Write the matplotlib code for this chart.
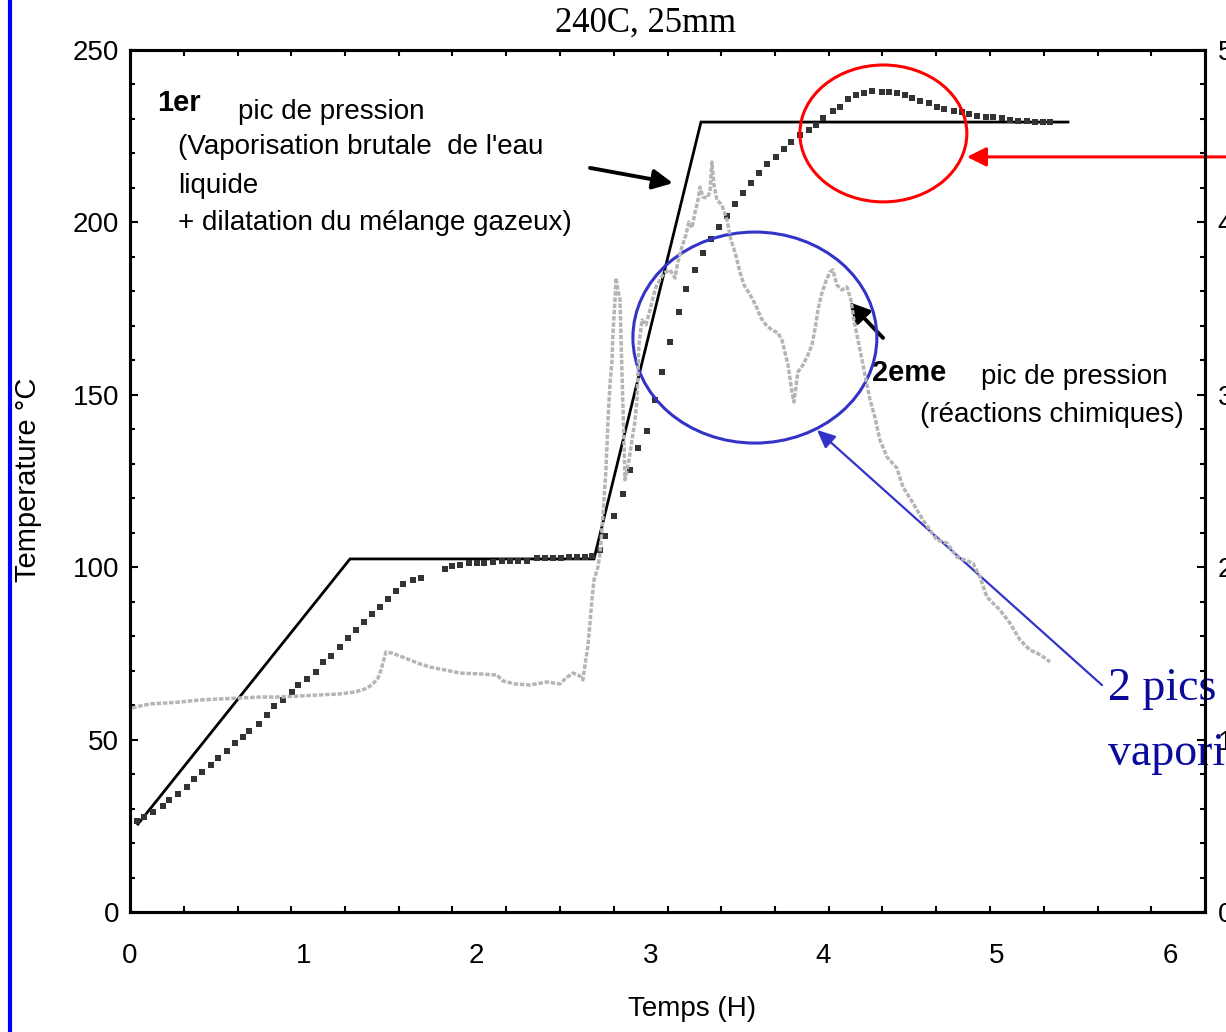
import numpy as np
import matplotlib
matplotlib.use("Agg")
import matplotlib.pyplot as plt
from matplotlib.patches import Ellipse
from matplotlib.lines import Line2D
from matplotlib.ticker import FixedLocator, MultipleLocator

plt.rcParams['font.family'] = ['Liberation Sans', 'DejaVu Sans']

# ---------------- data ----------------
# setpoint (consigne) temperature
time_set = [0.046, 1.269, 2.676, 3.293, 5.41]
temp_set = [25.5, 102.4, 102.4, 229.1, 229.1]

# measured temperature (dark dots)
time_meas = [0.040, 0.081, 0.133, 0.190, 0.225, 0.277, 0.329, 0.369, 0.415, 0.467,
             0.507, 0.559, 0.606, 0.652, 0.686, 0.744, 0.790, 0.830, 0.882, 0.934,
             0.969, 1.021, 1.073, 1.113, 1.159, 1.211, 1.257, 1.303, 1.349, 1.396,
             1.442, 1.488, 1.534, 1.574, 1.632, 1.678, 1.817, 1.857, 1.903, 1.955,
             2.001, 2.042, 2.093, 2.145, 2.191, 2.238, 2.289, 2.347, 2.393, 2.439,
             2.486, 2.532, 2.578, 2.624, 2.664, 2.711, 2.739, 2.791, 2.843, 2.884,
             2.930, 2.982, 3.028, 3.068, 3.114, 3.166, 3.206, 3.258, 3.304, 3.351,
             3.397, 3.443, 3.489, 3.535, 3.581, 3.627, 3.674, 3.725, 3.772, 3.812,
             3.864, 3.916, 3.956, 3.997, 4.054, 4.095, 4.141, 4.187, 4.233, 4.279,
             4.337, 4.377, 4.423, 4.469, 4.510, 4.556, 4.608, 4.654, 4.694, 4.752,
             4.798, 4.839, 4.885, 4.937, 4.977, 5.029, 5.075, 5.121, 5.173, 5.219,
             5.265, 5.306]
temp_meas = [26.4, 27.6, 29.0, 30.7, 32.5, 34.2, 36.3, 38.6, 40.6, 42.6,
             44.7, 46.7, 49.0, 50.8, 52.5, 54.5, 57.1, 59.7, 61.5, 63.8,
             65.8, 67.6, 69.6, 72.5, 74.2, 76.9, 79.5, 81.8, 84.1, 86.4,
             88.5, 90.8, 93.1, 95.1, 96.3, 96.9, 99.5, 100.3, 100.6, 101.2,
             101.2, 101.2, 101.5, 101.8, 101.8, 101.8, 101.8, 102.7, 102.7, 102.7,
             102.7, 103.0, 103.0, 103.0, 103.2, 105.0, 109.0, 114.8, 121.2, 128.2,
             134.6, 139.5, 148.5, 156.6, 165.3, 174.0, 180.7, 186.2, 191.1, 195.2,
             198.7, 201.9, 205.3, 208.5, 211.4, 214.3, 216.9, 219.0, 221.3, 223.3,
             225.3, 226.8, 228.2, 230.3, 232.3, 233.5, 235.8, 236.9, 237.5, 238.1,
             237.8, 237.8, 237.5, 236.9, 236.1, 235.2, 234.6, 233.5, 232.9, 232.3,
             232.0, 231.4, 230.9, 230.6, 230.6, 230.3, 229.7, 229.4, 229.4, 229.1,
             229.1, 229.1]

# pressure (light grey, right axis)
time_p = [0.012, 0.058, 0.115, 0.202, 0.288, 0.404, 0.519, 0.634, 0.750, 0.865,
          0.980, 1.095, 1.211, 1.298, 1.355, 1.396, 1.430, 1.448, 1.459, 1.476,
          1.511, 1.557, 1.615, 1.672, 1.730, 1.817, 1.903, 2.018, 2.116, 2.151,
          2.220, 2.307, 2.405, 2.480, 2.514, 2.555, 2.595, 2.612, 2.624, 2.641,
          2.653, 2.664, 2.676, 2.699, 2.711, 2.728, 2.745, 2.757, 2.768, 2.780,
          2.785, 2.797, 2.803, 2.814, 2.826, 2.837, 2.855, 2.878, 2.895, 2.912,
          2.924, 2.935, 2.953, 2.976, 2.999, 3.016, 3.033, 3.056, 3.079, 3.114,
          3.143, 3.160, 3.183, 3.206, 3.224, 3.241, 3.258, 3.276, 3.287, 3.304,
          3.328, 3.345, 3.356, 3.368, 3.385, 3.414, 3.443, 3.466, 3.489, 3.518,
          3.541, 3.570, 3.593, 3.616, 3.639, 3.668, 3.702, 3.737, 3.760, 3.777,
          3.795, 3.806, 3.818, 3.829, 3.852, 3.881, 3.910, 3.933, 3.950, 3.968,
          3.985, 4.014, 4.037, 4.054, 4.077, 4.106, 4.135, 4.158, 4.175, 4.193,
          4.268, 4.296, 4.325, 4.366, 4.423, 4.458, 4.516, 4.573, 4.614, 4.654,
          4.712, 4.769, 4.815, 4.862, 4.902, 4.942, 5.017, 5.075, 5.133, 5.190,
          5.231, 5.277, 5.306]
pres = [1.183, 1.195, 1.207, 1.212, 1.218, 1.230, 1.236, 1.241, 1.247, 1.247,
        1.253, 1.259, 1.265, 1.276, 1.294, 1.317, 1.357, 1.404, 1.444, 1.508,
        1.502, 1.485, 1.462, 1.439, 1.421, 1.404, 1.386, 1.381, 1.375, 1.340,
        1.323, 1.317, 1.334, 1.323, 1.357, 1.386, 1.369, 1.346, 1.433, 1.543,
        1.676, 1.810, 1.926, 2.001, 2.082, 2.303, 2.564, 2.854, 3.057, 3.202,
        3.347, 3.550, 3.678, 3.608, 3.550, 3.144, 2.506, 2.622, 2.738, 2.842,
        2.970, 3.289, 3.434, 3.405, 3.492, 3.562, 3.625, 3.666, 3.707, 3.724,
        3.678, 3.770, 3.857, 3.927, 4.002, 3.968, 4.055, 4.130, 4.205, 4.147,
        4.142, 4.176, 4.350, 4.217, 4.130, 4.101, 4.014, 3.898, 3.828, 3.712,
        3.637, 3.591, 3.550, 3.504, 3.446, 3.405, 3.376, 3.359, 3.318, 3.248,
        3.173, 3.097, 3.016, 2.958, 3.132, 3.173, 3.231, 3.289, 3.376, 3.492,
        3.573, 3.660, 3.712, 3.724, 3.637, 3.608, 3.625, 3.550, 3.434, 3.347,
        2.970, 2.871, 2.738, 2.639, 2.575, 2.465, 2.372, 2.274, 2.216, 2.158,
        2.140, 2.059, 2.042, 2.024, 1.943, 1.827, 1.752, 1.676, 1.578, 1.520,
        1.502, 1.473, 1.450]

x_ticks = [0, 1, 2, 3, 4, 5, 6]
x_ticklabels = ['0', '1', '2', '3', '4', '5', '6']
y_ticks = [0, 50, 100, 150, 200, 250]
y2_ticks = [0, 1, 2, 3, 4, 5]

# ---------------- figure ----------------
W, H = 1226, 1032
fig = plt.figure(figsize=(W / 100, H / 100), dpi=100)
ax = fig.add_axes([130 / W, 1 - 912 / H, 1075 / W, 862 / H])
ax2 = ax.twinx()

ax.set_xlim(0, 6.2)
ax.set_ylim(0, 250)
ax2.set_ylim(0, 5)

# series
ax.plot(time_set, temp_set, color='black', lw=2.0, zorder=4, solid_joinstyle='miter')
ax.plot(time_meas, temp_meas, ls='none', marker='s', ms=4.3, mew=0,
        color='#333333', zorder=5)
ax2.plot(time_p, pres, color='#b5b5b5', lw=2.5, ls=(0, (1.3, 0.5)), zorder=1)

# spines / ticks
for a in (ax, ax2):
    for s in a.spines.values():
        s.set_linewidth(2.2)
        s.set_color('black')

ax.set_xticks(x_ticks)
ax.set_xticklabels(x_ticklabels)
ax.xaxis.set_minor_locator(FixedLocator(np.arange(1, 20) * 0.31))
ax.tick_params(axis='x', which='major', length=0, pad=22, labelsize=20)
ax.tick_params(axis='x', which='minor', direction='in', length=4, width=1.5,
               top=True, bottom=True)

ax.set_yticks(y_ticks)
ax.yaxis.set_minor_locator(MultipleLocator(10))
ax.tick_params(axis='y', which='major', direction='in', length=5.5, width=1.5,
               pad=8, labelsize=20, right=False)
ax.tick_params(axis='y', which='minor', direction='in', length=3.5, width=1.5,
               right=False)

ax2.set_yticks(y2_ticks)
ax2.yaxis.set_minor_locator(MultipleLocator(0.2))
ax2.tick_params(axis='y', which='major', direction='in', length=5.5, width=1.5,
                pad=9, labelsize=20)
ax2.tick_params(axis='y', which='minor', direction='in', length=3.5, width=1.5)

ax.set_xlabel('Temps (H)', fontsize=20)
ax.xaxis.set_label_coords(0.523, -0.098)
ax.set_ylabel('Temperature °C', fontsize=21)
ax.yaxis.set_label_coords(-0.082, 0.501)

fig.text(645 / W, 1 - 23 / H, '240C, 25mm', ha='center', va='center',
         fontsize=25, family=['Liberation Serif', 'DejaVu Serif'])

# left blue bar
fig.add_artist(Line2D([10 / W, 10 / W], [0, 1], color='#0000ff', lw=3,
                      transform=fig.transFigure))

# ---------------- annotations ----------------
txt = dict(fontsize=20, color='black', va='center', ha='left', zorder=6)
ax.text(0.156, 234.5, '1er', fontweight='bold', **dict(txt, fontsize=21))
ax.text(0.623, 232.0, 'pic de pression', **txt)
ax.text(0.277, 222.0, "(Vaporisation brutale  de l'eau", **txt)
ax.text(0.277, 210.6, 'liquide', **txt)
ax.text(0.277, 199.8, '+ dilatation du mélange gazeux)', **txt)

ax.text(4.279, 156.2, '2eme', fontweight='bold', **dict(txt, fontsize=21))
ax.text(4.908, 155.2, 'pic de pression', **txt)
ax.text(4.556, 144.0, '(réactions chimiques)', **txt)

blk_arrow = dict(arrowstyle='-|>,head_length=0.6,head_width=0.3', color='black',
                 lw=2.8, shrinkA=0, shrinkB=0, mutation_scale=20)
ax.annotate('', xy=(3.131, 211.4), xytext=(2.653, 215.8), arrowprops=blk_arrow,
            zorder=6)
ax.annotate('', xy=(4.146, 176.9), xytext=(4.343, 166.5), arrowprops=blk_arrow,
            zorder=6)

# red ellipse + arrow
ax.add_patch(Ellipse((4.345, 225.8), 0.963, 39.7, fill=False, edgecolor='#ff0000',
                     lw=2.2, zorder=7, clip_on=False))
ax.annotate('', xy=(4.827, 219.0), xytext=(6.33, 219.0), annotation_clip=False,
            arrowprops=dict(arrowstyle='-|>,head_length=0.58,head_width=0.29',
                            color='#ff0000', lw=2.2, shrinkA=0, shrinkB=0,
                            mutation_scale=20), zorder=7)

# blue ellipse + arrow
ax.add_patch(Ellipse((3.604, 166.6), 1.407, 61.2, fill=False, edgecolor='#3333c8',
                     lw=2.2, zorder=7))
ax.annotate('', xy=(3.962, 139.8), xytext=(5.606, 65.8),
            arrowprops=dict(arrowstyle='-|>,head_length=0.55,head_width=0.25',
                            color='#3333c8', lw=1.6, shrinkA=0, shrinkB=0,
                            mutation_scale=20), zorder=7)
btxt = dict(fontsize=33, color='#0a0a9c', va='baseline', ha='left',
            family=['Liberation Serif', 'DejaVu Serif'], clip_on=False, zorder=2)
ax.text(5.64, 61.5, '2 pics de', **btxt)
ax.text(5.64, 42.6, 'vaporisation', **btxt)

fig.savefig('out.png', dpi=100)
